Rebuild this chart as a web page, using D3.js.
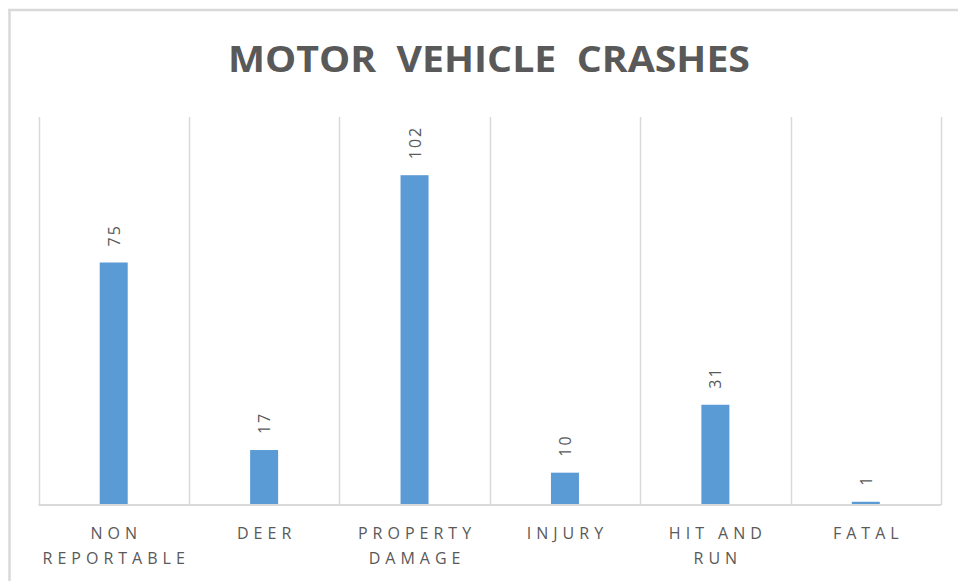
<!DOCTYPE html>
<html><head><meta charset="utf-8">
<script src="https://cdn.jsdelivr.net/npm/d3@7"></script>
<style>html,body{margin:0;padding:0;background:#fff;}svg{display:block;}</style>
</head><body>
<script>
const categories = [["NON","REPORTABLE"],["DEER"],["PROPERTY","DAMAGE"],["INJURY"],["HIT AND","RUN"],["FATAL"]];
const values = [75, 17, 102, 10, 31, 1];
const yDomain = [0, 120];
const title = "MOTOR  VEHICLE  CRASHES";

const W = 958, H = 581;
const svg = d3.select("body").append("svg").attr("width", W).attr("height", H);
svg.append("rect").attr("width", W).attr("height", H).attr("fill", "#fff");

// frame (top and left edges only visible)
svg.append("line").attr("x1", 8).attr("x2", W).attr("y1", 10).attr("y2", 10).attr("stroke", "#d9d9d9").attr("stroke-width", 2.5);
svg.append("line").attr("x1", 9.5).attr("x2", 9.5).attr("y1", 9).attr("y2", H).attr("stroke", "#d9d9d9").attr("stroke-width", 2.5);

const plot = {left: 38.5, right: 941, top: 117, bottom: 505};
const x = d3.scaleBand().domain(d3.range(values.length)).range([plot.left, plot.right]).padding(0);
const y = d3.scaleLinear().domain(yDomain).range([plot.bottom, plot.top]);
const barW = 28;
const font = "'Open Sans', 'DejaVu Sans', sans-serif";

// title
svg.append("text").attr("x", 489).attr("y", 72).attr("text-anchor", "middle")
  .attr("font-family", font).attr("font-weight", 700)
  .attr("font-size", 36).attr("fill", "#595959")
  .attr("textLength", 522).attr("lengthAdjust", "spacingAndGlyphs")
  .style("white-space", "pre").text(title);

// vertical gridlines at band boundaries
const bounds = x.domain().map(d => x(d)).concat([plot.right]);
svg.append("g").selectAll("line").data(bounds).join("line")
  .attr("x1", d => Math.round(d) + 0.5).attr("x2", d => Math.round(d) + 0.5)
  .attr("y1", plot.top).attr("y2", plot.bottom)
  .attr("stroke", "#d9d9d9").attr("stroke-width", 1.5);

// baseline
svg.append("line").attr("x1", plot.left).attr("x2", plot.right).attr("y1", plot.bottom).attr("y2", plot.bottom)
  .attr("stroke", "#d9d9d9").attr("stroke-width", 2);

// bars
svg.append("g").selectAll("rect").data(values).join("rect")
  .attr("x", (d, i) => x(i) + x.bandwidth() / 2 - barW / 2)
  .attr("y", d => y(d))
  .attr("width", barW)
  .attr("height", d => y(0) - y(d) - 1)
  .attr("fill", "#5b9bd5");

// value labels (rotated)
svg.append("g").selectAll("text").data(values).join("text")
  .attr("transform", (d, i) => `translate(${x(i) + x.bandwidth() / 2 + 6},${y(d) - 16}) rotate(-90)`)
  .attr("font-family", font)
  .attr("font-size", 16).attr("fill", "#595959")
  .attr("letter-spacing", 2)
  .text(d => d);

// category labels
const cg = svg.append("g");
categories.forEach((lines, i) => {
  const t = cg.append("text").attr("text-anchor", "middle")
    .attr("font-family", font)
    .attr("font-size", 16).attr("fill", "#595959")
    .attr("letter-spacing", 5);
  lines.forEach((ln, j) => {
    t.append("tspan").attr("x", x(i) + x.bandwidth() / 2 + 2.5).attr("y", 539 + j * 25).text(ln);
  });
});
</script>
</body></html>
